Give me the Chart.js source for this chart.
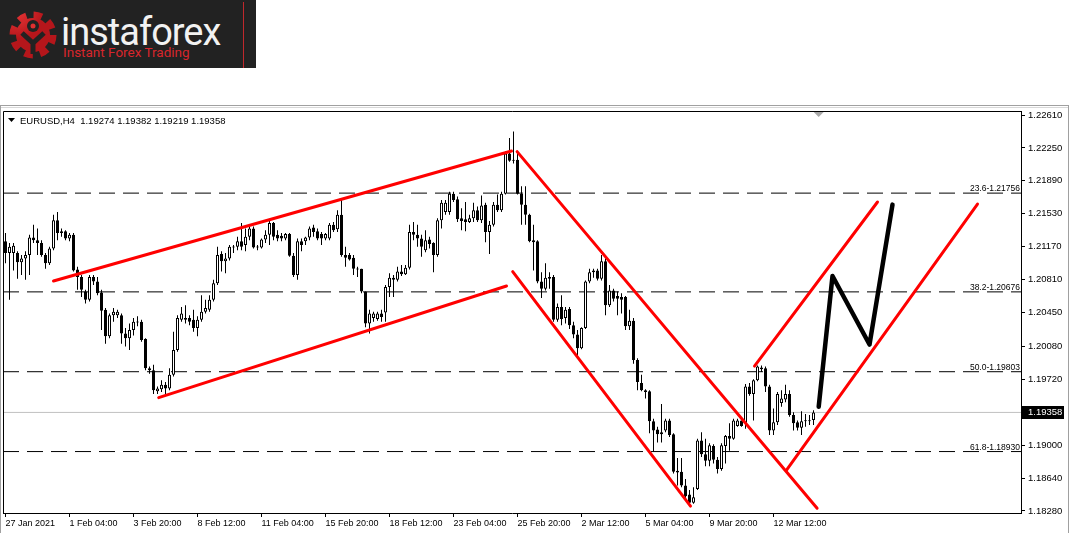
<!DOCTYPE html>
<html>
<head>
<meta charset="utf-8">
<script src="https://cdn.jsdelivr.net/npm/chart.js@4.4.1/dist/chart.umd.min.js"></script>
<style>
  body { margin: 0; width: 1072px; height: 533px; background: #fff; overflow: hidden; position: relative; }
  #logo { position: absolute; left: 0; top: 0; width: 256px; height: 68px; background: #222; z-index: 2; }
  #logo .sep { position: absolute; left: 243px; top: 2px; width: 1px; height: 66px; background: #c0282c; }
  #logo .name { position: absolute; left: 61px; top: 10px; font: 38px Roboto, sans-serif; letter-spacing: -1px; color: #f2f2f2; line-height: 44px; }
  #logo .slogan { position: absolute; left: 63px; top: 44px; font: 13.5px Roboto, sans-serif; color: #d8262c; line-height: 16px; }
  .edge { position: absolute; z-index: 1; }
  #wrap { position: absolute; left: 0; top: 0; width: 1072px; height: 533px; }
</style>
</head>
<body>
<div id="logo">
  <svg width="60" height="60" viewBox="-30 -30 60 60" style="position:absolute;left:3px;top:5px">
    <defs>
      <radialGradient id="g" cx="0" cy="-0.2" r="0.8">
        <stop offset="0" stop-color="#f03a3a"/>
        <stop offset="1" stop-color="#b5161b"/>
      </radialGradient>
    </defs>
    <circle r="19" fill="none" stroke="url(#g)" stroke-width="9" stroke-dasharray="8 6.92"/>
    <circle r="17" fill="url(#g)"/>
    <path d="M-11,-2 L0,8 L11,-2 M0,8 L0,19" stroke="#222" stroke-width="5" fill="none"/>
    <circle cy="-9" r="6" fill="#222"/>
    <circle cy="-9" r="2.5" fill="#e03030"/>
  </svg>
  <div class="name">instaforex</div>
  <div class="slogan">Instant Forex Trading</div>
  <div class="sep"></div>
</div>
<div class="edge" style="left:0;top:105px;width:1069px;height:1px;background:#a0a0a0"></div>
<div class="edge" style="left:0;top:107px;width:1069px;height:1px;background:#d8d8d8"></div>
<div class="edge" style="left:0;top:105px;width:1px;height:428px;background:#a0a0a0"></div>
<div class="edge" style="left:1068px;top:105px;width:1px;height:428px;background:#a0a0a0"></div>
<div id="wrap"><canvas id="chart" width="1072" height="533"></canvas></div>
<script>
// EURUSD H4 candles, 27 Jan 2021 .. 16 Mar 2021
const opens = [
  1.2123,1.2110,1.2110,1.2110,1.2100,1.2104,1.2108,1.2127,1.2124,1.2121,
  1.2108,1.2099,1.2115,1.2146,1.2132,1.2134,1.2126,1.2130,1.2092,1.2084,
  1.2068,1.2059,1.2084,1.2079,1.2067,1.2048,1.2019,1.2042,1.2042,1.2042,
  1.2022,1.2017,1.2026,1.2035,1.2035,1.2016,1.1984,1.1982,1.1959,1.1961,
  1.1966,1.1962,1.1977,1.2004,1.2037,1.2039,1.2039,1.2037,1.2028,1.2037,
  1.2046,1.2048,1.2059,1.2077,1.2109,1.2101,1.2104,1.2116,1.2117,1.2123,
  1.2119,1.2128,1.2137,1.2117,1.2116,1.2125,1.2130,1.2143,1.2130,1.2129,
  1.2126,1.2131,1.2107,1.2086,1.2123,1.2123,1.2127,1.2138,1.2134,1.2131,
  1.2126,1.2126,1.2141,1.2136,1.2152,1.2108,1.2108,1.2105,1.2093,1.2093,
  1.2068,1.2033,1.2039,1.2038,1.2044,1.2045,1.2073,1.2083,1.2081,1.2090,
  1.2087,1.2094,1.2133,1.2130,1.2126,1.2113,1.2125,1.2121,1.2108,1.2146,
  1.2155,1.2155,1.2175,1.2169,1.2148,1.2147,1.2144,1.2148,1.2157,1.2146,
  1.2163,1.2133,1.2141,1.2163,1.2157,1.2175,1.2219,1.2211,1.2212,1.2175,
  1.2163,1.2152,1.2124,1.2123,1.2079,1.2071,1.2082,1.2084,1.2037,1.2051,
  1.2039,1.2049,1.2031,1.2021,1.2006,1.2028,1.2079,1.2089,1.2091,1.2082,
  1.2101,1.2053,1.2069,1.2063,1.2062,1.2062,1.2030,1.2036,1.1993,1.1968,
  1.1960,1.1959,1.1926,1.1917,1.1912,1.1916,1.1927,1.1912,1.1872,1.1871,
  1.1856,1.1846,1.1837,1.1852,1.1905,1.1890,1.1883,1.1899,1.1884,1.1874,
  1.1899,1.1910,1.1907,1.1921,1.1927,1.1924,1.1964,1.1956,1.1971,1.1985,
  1.1984,1.1964,1.1916,1.1925,1.1946,1.1950,1.1956,1.1933,1.1925,1.1919,
  1.1927,1.1926,1.19274
];
const highs = [
  1.2132,1.2121,1.2121,1.2112,1.2108,1.2112,1.2130,1.2141,1.2137,1.2124,
  1.2110,1.2117,1.2152,1.2155,1.2137,1.2135,1.2132,1.2132,1.2095,1.2086,
  1.2070,1.2086,1.2086,1.2084,1.2070,1.2050,1.2044,1.2050,1.2048,1.2044,
  1.2028,1.2033,1.2039,1.2041,1.2037,1.2017,1.1986,1.1988,1.1964,1.1971,
  1.1969,1.1984,1.2024,1.2042,1.2051,1.2053,1.2042,1.2048,1.2041,1.2064,
  1.2059,1.2064,1.2081,1.2117,1.2112,1.2110,1.2119,1.2119,1.2128,1.2143,
  1.2137,1.2141,1.2139,1.2119,1.2126,1.2135,1.2145,1.2144,1.2135,1.2132,
  1.2132,1.2132,1.2110,1.2126,1.2126,1.2128,1.2139,1.2141,1.2137,1.2133,
  1.2132,1.2143,1.2144,1.2157,1.2168,1.2117,1.2110,1.2108,1.2095,1.2093,
  1.2068,1.2048,1.2046,1.2046,1.2048,1.2075,1.2088,1.2086,1.2095,1.2097,
  1.2097,1.2141,1.2144,1.2141,1.2130,1.2135,1.2128,1.2122,1.2148,1.2168,
  1.2168,1.2177,1.2177,1.2172,1.2159,1.2166,1.2152,1.2165,1.2161,1.2173,
  1.2165,1.2145,1.2166,1.2174,1.2177,1.2221,1.2236,1.2243,1.2222,1.2183,
  1.2183,1.2153,1.2141,1.2124,1.2089,1.2099,1.2089,1.2086,1.2055,1.2064,
  1.2051,1.2051,1.2035,1.2026,1.2029,1.2080,1.2093,1.2093,1.2093,1.2108,
  1.2104,1.2075,1.2071,1.2068,1.2066,1.2063,1.2048,1.2039,1.1995,1.1977,
  1.1961,1.1960,1.1929,1.1920,1.1945,1.1929,1.1929,1.1913,1.1886,1.1886,
  1.1863,1.1851,1.1854,1.1907,1.1914,1.1907,1.1902,1.1901,1.1887,1.1902,
  1.1911,1.1924,1.1929,1.1929,1.1927,1.1967,1.1968,1.1972,1.1987,1.1987,
  1.1986,1.1966,1.1940,1.1958,1.1960,1.1966,1.1960,1.1936,1.1927,1.1937,
  1.1934,1.1933,1.19382
];
const lows = [
  1.2099,1.2059,1.2091,1.2082,1.2086,1.2081,1.2086,1.2121,1.2108,1.2106,
  1.2093,1.2097,1.2113,1.2124,1.2128,1.2124,1.2123,1.2090,1.2070,1.2062,
  1.2055,1.2057,1.2075,1.2064,1.2026,1.2011,1.2017,1.2035,1.2039,1.2011,
  1.2008,1.2004,1.2020,1.2030,1.2013,1.1982,1.1978,1.1956,1.1956,1.1958,
  1.1955,1.1960,1.1975,1.2002,1.2035,1.2033,1.2031,1.2024,1.2019,1.2035,
  1.2044,1.2046,1.2057,1.2075,1.2090,1.2088,1.2102,1.2110,1.2113,1.2113,
  1.2112,1.2124,1.2115,1.2113,1.2115,1.2121,1.2119,1.2124,1.2123,1.2123,
  1.2124,1.2106,1.2084,1.2081,1.2112,1.2119,1.2124,1.2128,1.2124,1.2119,
  1.2124,1.2124,1.2133,1.2133,1.2106,1.2095,1.2102,1.2086,1.2084,1.2066,
  1.2029,1.2022,1.2035,1.2036,1.2035,1.2035,1.2062,1.2062,1.2079,1.2085,
  1.2086,1.2092,1.2124,1.2117,1.2106,1.2111,1.2115,1.2089,1.2106,1.2137,
  1.2152,1.2152,1.2166,1.2144,1.2135,1.2134,1.2143,1.2144,1.2144,1.2143,
  1.2122,1.2109,1.2139,1.2155,1.2155,1.2174,1.2210,1.2208,1.2174,1.2141,
  1.2141,1.2122,1.2091,1.2077,1.2061,1.2069,1.2071,1.2035,1.2035,1.2031,
  1.2033,1.2027,1.2017,1.1995,1.2005,1.2027,1.2077,1.2083,1.2080,1.2080,
  1.2042,1.2051,1.2057,1.2042,1.2044,1.2026,1.2026,1.1989,1.1960,1.1959,
  1.1951,1.1913,1.1893,1.1903,1.1903,1.1914,1.1909,1.1869,1.1856,1.1854,
  1.1841,1.1834,1.1836,1.1851,1.1887,1.1877,1.1877,1.1880,1.1869,1.1872,
  1.1880,1.1894,1.1906,1.1920,1.1920,1.1918,1.1954,1.1927,1.1970,1.1980,
  1.1958,1.1911,1.1911,1.1922,1.1942,1.1947,1.1931,1.1916,1.1916,1.1911,
  1.1920,1.1922,1.19219
];
const closes = [
  1.2110,1.2117,1.2118,1.2100,1.2104,1.2108,1.2127,1.2124,1.2121,1.2108,
  1.2099,1.2115,1.2146,1.2132,1.2134,1.2126,1.2130,1.2091,1.2084,1.2070,
  1.2059,1.2084,1.2079,1.2066,1.2047,1.2019,1.2042,1.2046,1.2046,1.2022,
  1.2017,1.2026,1.2035,1.2034,1.2015,1.1984,1.1982,1.1960,1.1962,1.1966,
  1.1962,1.1977,1.2004,1.2039,1.2044,1.2037,1.2035,1.2028,1.2037,1.2046,
  1.2050,1.2059,1.2077,1.2108,1.2101,1.2104,1.2117,1.2117,1.2123,1.2117,
  1.2128,1.2137,1.2116,1.2116,1.2125,1.2130,1.2143,1.2128,1.2126,1.2126,
  1.2131,1.2107,1.2086,1.2123,1.2119,1.2127,1.2137,1.2133,1.2126,1.2126,
  1.2131,1.2141,1.2135,1.2152,1.2108,1.2105,1.2103,1.2093,1.2092,1.2068,
  1.2033,1.2044,1.2044,1.2044,1.2040,1.2073,1.2083,1.2081,1.2090,1.2087,
  1.2094,1.2133,1.2130,1.2126,1.2117,1.2124,1.2120,1.2108,1.2146,1.2165,
  1.2165,1.2175,1.2168,1.2147,1.2145,1.2144,1.2148,1.2157,1.2146,1.2162,
  1.2133,1.2141,1.2163,1.2157,1.2175,1.2219,1.2211,1.2212,1.2175,1.2163,
  1.2152,1.2123,1.2122,1.2079,1.2071,1.2083,1.2084,1.2037,1.2051,1.2038,
  1.2048,1.2031,1.2021,1.2006,1.2028,1.2079,1.2089,1.2091,1.2082,1.2101,
  1.2053,1.2069,1.2060,1.2060,1.2059,1.2030,1.2036,1.1993,1.1969,1.1960,
  1.1958,1.1926,1.1916,1.1912,1.1914,1.1927,1.1911,1.1871,1.1870,1.1856,
  1.1844,1.1837,1.1843,1.1905,1.1890,1.1883,1.1900,1.1884,1.1874,1.1900,
  1.1910,1.1907,1.1927,1.1927,1.1921,1.1964,1.1956,1.1971,1.1986,1.1983,
  1.1964,1.1916,1.1925,1.1956,1.1951,1.1956,1.1933,1.1924,1.1919,1.1926,
  1.1926,1.1927,1.19358
];

// time axis labels sit on every 16th bar
const timeLabels = ['27 Jan 2021','1 Feb 04:00','3 Feb 20:00','8 Feb 12:00','11 Feb 04:00','15 Feb 20:00',
  '18 Feb 12:00','23 Feb 04:00','25 Feb 20:00','2 Mar 12:00','5 Mar 04:00','9 Mar 20:00','12 Mar 12:00'];
const timeTickBars = [0,16,32,48,64,80,96,112,128,144,160,176,192];
const priceTicks = [1.22610,1.22250,1.21890,1.21530,1.21170,1.20810,1.20450,1.20080,1.19720,1.19000,1.18640,1.18280];

const fibLevels = ['23.6','38.2','50.0','61.8'];
const fibPrices = [1.21756,1.20676,1.19803,1.18930];
const bidPrice = 1.19358;

// drawn channel lines: [bar, price] pairs
const redLines = [
  [[12, 1.20795], [126.5, 1.22216]],
  [[38.3, 1.19520], [125.25, 1.20740]],
  [[127.9, 1.22210], [202.9, 1.18310]],
  [[126.8, 1.20897], [171.25, 1.18334]],
  [[187.25, 1.19865], [218, 1.21659]],
  [[195.25, 1.18728], [243, 1.21637]]
];
const forecast = [[203.3, 1.19420], [206.75, 1.20850], [216, 1.20100], [221.75, 1.21630]];

const xMin = -0.625, xMax = 253.875;
const yMin = 1.18258, yMax = 1.22654;
const fontFamily = "'Liberation Sans', Arial, sans-serif";

const datasets = [];
datasets.push({
  type: 'bar', order: 5,
  data: closes.map((c, i) => ({ x: i, y: [lows[i], highs[i]] })),
  backgroundColor: '#000', barThickness: 1, grouped: false, inflateAmount: 0
});
datasets.push({
  type: 'bar', order: 4,
  data: closes.map((c, i) => ({ x: i, y: [opens[i], c] })),
  backgroundColor: ctx => closes[ctx.dataIndex] >= opens[ctx.dataIndex] ? '#fff' : '#000',
  borderColor: '#000', borderWidth: 1, borderSkipped: false, minBarLength: 1,
  barThickness: 3, grouped: false, inflateAmount: 0
});
fibPrices.forEach(p => datasets.push({
  type: 'line', order: 6,
  data: [{ x: xMin, y: p }, { x: xMax, y: p }],
  borderColor: '#000', borderWidth: 1, borderDash: [16, 8], pointRadius: 0
}));
datasets.push({
  type: 'line', order: 7,
  data: [{ x: xMin, y: bidPrice }, { x: xMax, y: bidPrice }],
  borderColor: '#c0c0c0', borderWidth: 1, pointRadius: 0
});
redLines.forEach(l => datasets.push({
  type: 'line', order: 1,
  data: l.map(p => ({ x: p[0], y: p[1] })),
  borderColor: '#ff0000', borderWidth: 3, borderCapStyle: 'round', pointRadius: 0
}));
datasets.push({
  type: 'line', order: 0,
  data: forecast.map(p => ({ x: p[0], y: p[1] })),
  borderColor: '#000', borderWidth: 4.5, borderCapStyle: 'round', borderJoinStyle: 'round', pointRadius: 0
});

const mtOverlay = {
  id: 'mtOverlay',
  afterDraw(chart) {
    const { ctx, chartArea: a, scales } = chart;
    ctx.save();
    // frame top + left
    ctx.strokeStyle = '#000';
    ctx.lineWidth = 1;
    ctx.beginPath();
    ctx.moveTo(a.left + 0.5, a.bottom);
    ctx.lineTo(a.left + 0.5, a.top + 0.5);
    ctx.lineTo(a.right, a.top + 0.5);
    ctx.stroke();

    // symbol header
    ctx.fillStyle = '#000';
    ctx.beginPath();
    ctx.moveTo(a.left + 5, a.top + 7);
    ctx.lineTo(a.left + 12, a.top + 7);
    ctx.lineTo(a.left + 8.5, a.top + 11);
    ctx.fill();
    ctx.font = '9.5px ' + fontFamily;
    ctx.textBaseline = 'alphabetic';
    ctx.textAlign = 'left';
    ctx.fillText('EURUSD,H4  ' + [opens.at(-1), highs.at(-1), lows.at(-1), closes.at(-1)].map(v => v.toFixed(5)).join(' '),
      a.left + 17, a.top + 13);

    // fibo labels
    ctx.font = '8.5px ' + fontFamily;
    ctx.textAlign = 'right';
    fibPrices.forEach((p, i) => {
      const y = scales.y.getPixelForValue(p);
      ctx.fillText(fibLevels[i] + '-' + p.toFixed(5), a.right - 1, y - 2);
    });

    // bid box on the price axis
    const by = Math.round(scales.y.getPixelForValue(bidPrice));
    ctx.fillStyle = '#000';
    ctx.fillRect(a.right + 1, by - 6, 42, 13);
    ctx.fillStyle = '#fff';
    ctx.textAlign = 'left';
    ctx.textBaseline = 'middle';
    ctx.font = '9.5px ' + fontFamily;
    ctx.fillText(bidPrice.toFixed(5), a.right + 7, by + 0.5);

    // chart shift marker
    const sx = scales.x.getPixelForValue(closes.length + 0.3);
    ctx.fillStyle = '#a8a8a8';
    ctx.beginPath();
    ctx.moveTo(sx - 5, a.top + 1);
    ctx.lineTo(sx + 5, a.top + 1);
    ctx.lineTo(sx, a.top + 6);
    ctx.fill();
    ctx.restore();
  }
};

new Chart(document.getElementById('chart'), {
  type: 'bar',
  data: { datasets },
  options: {
    responsive: false,
    animation: false,
    devicePixelRatio: 1,
    layout: { padding: { left: 3, top: 111, right: 0, bottom: 0 } },
    plugins: { legend: { display: false }, tooltip: { enabled: false } },
    scales: {
      x: {
        type: 'linear', min: xMin, max: xMax, offset: false,
        afterBuildTicks: s => { s.ticks = timeTickBars.map(v => ({ value: v })); },
        afterFit: s => { s.height = 20; },
        ticks: {
          callback: (v, i) => timeLabels[i], autoSkip: false, maxRotation: 0,
          align: 'start', color: '#000', font: { family: fontFamily, size: 9 }, padding: 1
        },
        grid: { drawOnChartArea: false, tickLength: 4, color: '#000', offset: false },
        border: { color: '#000' }
      },
      y: {
        type: 'linear', position: 'right', min: yMin, max: yMax,
        afterBuildTicks: s => { s.ticks = priceTicks.map(v => ({ value: v })); },
        afterFit: s => { s.width = 51; },
        ticks: { callback: v => v.toFixed(5), color: '#000', font: { family: fontFamily, size: 9.5 }, padding: 3 },
        grid: { drawOnChartArea: false, tickLength: 4, color: '#000' },
        border: { color: '#000' }
      }
    }
  },
  plugins: [mtOverlay]
});
</script>
</body>
</html>
